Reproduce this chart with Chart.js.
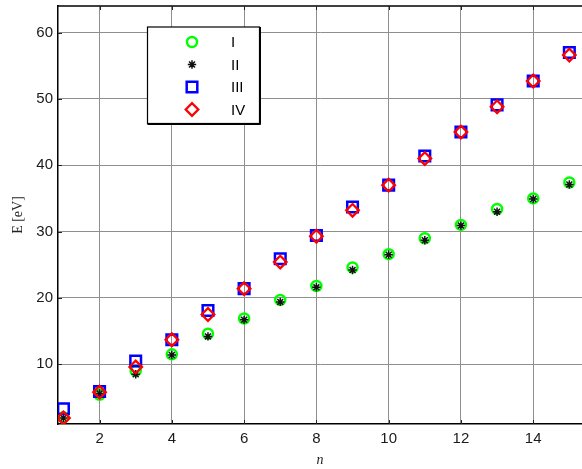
<!DOCTYPE html>
<html>
<head>
<meta charset="utf-8">
<script src="https://cdn.jsdelivr.net/npm/chart.js@4/dist/chart.umd.min.js"></script>
<style>
  html, body { margin: 0; padding: 0; background: #fff; }
  #wrap { width: 582px; height: 469px; }
</style>
</head>
<body>
<div id="wrap"><canvas id="c" width="582" height="469"></canvas></div>
<script>
// Level index n and energies (eV) for the four series
const nValues = [1, 2, 3, 4, 5, 6, 7, 8, 9, 10, 11, 12, 13, 14, 15];
const seriesI   = [2.0, 5.4, 9.0, 11.5, 14.6, 16.9, 19.7, 21.8, 24.6, 26.6, 29.0, 31.0, 33.4, 35.0, 37.4];
const seriesII  = [1.9, 5.6, 8.5, 11.4, 14.2, 16.7, 19.4, 21.6, 24.2, 26.5, 28.7, 30.9, 33.0, 34.9, 37.1];
const seriesIII = [3.3, 5.9, 10.5, 13.7, 18.1, 21.4, 25.9, 29.4, 33.7, 37.0, 41.4, 45.0, 49.1, 52.7, 57.0];
const seriesIV  = [1.9, 5.8, 9.6, 13.7, 17.5, 21.4, 25.4, 29.3, 33.2, 37.0, 41.0, 45.0, 48.8, 52.7, 56.6];
const seriesNames = ['I', 'II', 'III', 'IV'];
const xTicks = [2, 4, 6, 8, 10, 12, 14];
const yTicks = [10, 20, 30, 40, 50, 60];

const toPoints = vals => vals.map((v, i) => ({ x: nValues[i], y: v }));

const GRID = '#8f8f8f';
const TICK_FONT = { family: 'Liberation Sans, Arial, sans-serif', size: 15 };

const datasets = [
  { label: seriesNames[0], data: toPoints(seriesI), pointStyle: 'circle', pointRadius: 5,
    borderColor: '#00ff00', backgroundColor: 'rgba(0,0,0,0)', pointBorderWidth: 2.5, order: 4 },
  { label: seriesNames[1], data: toPoints(seriesII), pointStyle: 'star', pointRadius: 4.2,
    borderColor: '#111111', backgroundColor: 'rgba(0,0,0,0)', pointBorderWidth: 1.5, order: 3 },
  { label: seriesNames[2], data: toPoints(seriesIII), pointStyle: 'rect', pointRadius: 7.5,
    borderColor: '#0000ff', backgroundColor: 'rgba(0,0,0,0)', pointBorderWidth: 2.5, order: 2 },
  { label: seriesNames[3], data: toPoints(seriesIV), pointStyle: 'rectRot', pointRadius: 6.3,
    borderColor: '#ff0000', backgroundColor: 'rgba(0,0,0,0)', pointBorderWidth: 2.3, order: 1 }
];

// Frame top line, inward tick marks and the boxed legend
const framePlugin = {
  id: 'frame',
  afterDraw(chart) {
    const { ctx, chartArea: a, scales: { x, y } } = chart;
    ctx.save();
    ctx.strokeStyle = '#000';
    ctx.lineWidth = 1.5;
    ctx.beginPath();
    ctx.moveTo(a.left, a.top);
    ctx.lineTo(a.right, a.top);
    ctx.stroke();

    ctx.strokeStyle = '#222';
    ctx.lineWidth = 1;
    ctx.beginPath();
    xTicks.forEach(v => {
      const px = Math.round(x.getPixelForValue(v)) + 0.5;
      ctx.moveTo(px, a.bottom); ctx.lineTo(px, a.bottom - 4);
      ctx.moveTo(px, a.top); ctx.lineTo(px, a.top + 4);
    });
    yTicks.forEach(v => {
      const py = Math.round(y.getPixelForValue(v)) + 0.5;
      ctx.moveTo(a.left, py); ctx.lineTo(a.left + 4, py);
    });
    ctx.stroke();

    // legend
    const L = 147.5, T = 27, W = 112, H = 96.5;
    ctx.fillStyle = '#fff';
    ctx.fillRect(L, T, W, H);
    ctx.strokeStyle = '#000';
    ctx.lineWidth = 1.2;
    ctx.strokeRect(L, T, W, H);
    ctx.lineWidth = 1;
    ctx.beginPath();
    ctx.moveTo(L + W + 1, T); ctx.lineTo(L + W + 1, T + H + 1); ctx.lineTo(L, T + H + 1);
    ctx.stroke();

    chart.data.datasets.forEach((ds, i) => {
      const cy = 42 + i * 22.5;
      ctx.strokeStyle = ds.borderColor;
      ctx.fillStyle = ds.backgroundColor;
      ctx.lineWidth = ds.pointBorderWidth;
      Chart.helpers.drawPoint(ctx, {
        pointStyle: ds.pointStyle, radius: ds.pointRadius, rotation: 0, borderWidth: ds.pointBorderWidth
      }, 192, cy);
      ctx.fillStyle = '#000';
      ctx.font = '15px "Liberation Sans", Arial, sans-serif';
      ctx.textBaseline = 'middle';
      ctx.textAlign = 'left';
      ctx.fillText(ds.label, 231, cy + 1);
    });
    ctx.restore();
  }
};

new Chart(document.getElementById('c'), {
  type: 'scatter',
  data: { datasets },
  options: {
    responsive: false,
    animation: false,
    events: [],
    layout: { autoPadding: false, padding: { left: 0, right: 0, top: 6, bottom: 0 } },
    plugins: { legend: { display: false }, tooltip: { enabled: false } },
    elements: { point: { hoverRadius: 0 } },
    scales: {
      x: {
        type: 'linear', min: 0.85, max: 15.35,
        afterBuildTicks: s => { s.ticks = xTicks.map(v => ({ value: v })); },
        afterFit: s => { s.height = 45; s.paddingLeft = 0; s.paddingRight = 0; },
        grid: { color: GRID, lineWidth: 1, drawTicks: false },
        border: { display: true, color: '#000', width: 1.5 },
        ticks: { color: '#1a1a1a', font: TICK_FONT, padding: 6, maxRotation: 0 },
        title: { display: true, text: 'n', color: '#222',
          font: { family: 'Liberation Serif, Times New Roman, serif', size: 14, style: 'italic' },
          padding: { top: 0, bottom: 0 } }
      },
      y: {
        type: 'linear', min: 1, max: 64,
        afterBuildTicks: s => { s.ticks = yTicks.map(v => ({ value: v })); },
        afterFit: s => { s.width = 58; s.paddingTop = 0; s.paddingBottom = 0; },
        grid: { color: GRID, lineWidth: 1, drawTicks: false },
        border: { display: true, color: '#000', width: 1.5 },
        ticks: { color: '#1a1a1a', font: TICK_FONT, padding: 5 },
        title: { display: true, text: 'E [eV]', color: '#222',
          font: { family: 'Liberation Serif, Times New Roman, serif', size: 14 },
          padding: { top: 10, bottom: 0 } }
      }
    }
  },
  plugins: [framePlugin]
});
</script>
</body>
</html>
